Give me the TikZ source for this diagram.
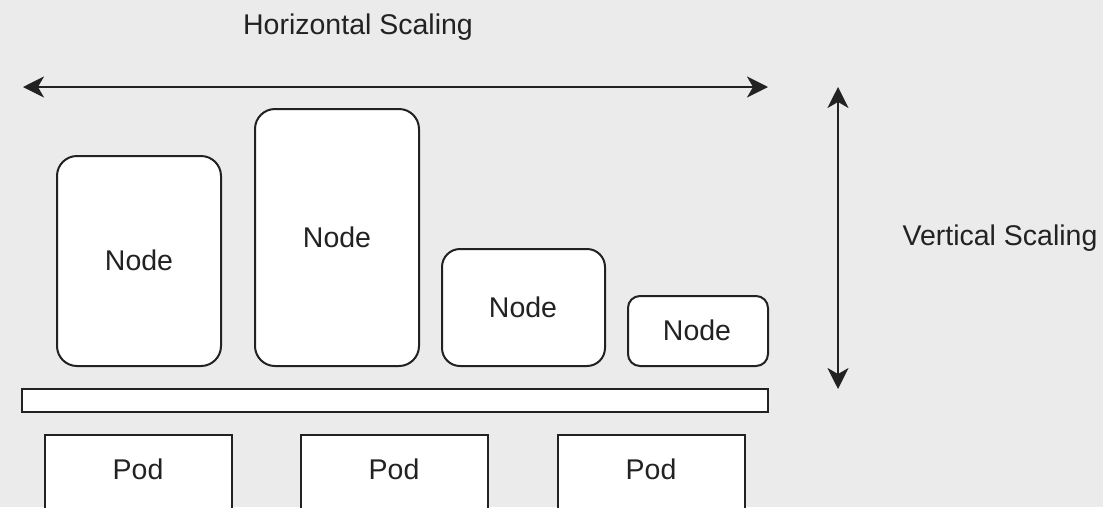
\documentclass[tikz,border=0pt]{standalone}
\usepackage{fontspec}
\setmainfont{Liberation Sans}
\usetikzlibrary{arrows.meta}
\definecolor{bg}{HTML}{EBEBEB}
\definecolor{ln}{HTML}{222222}
\begin{document}
\begin{tikzpicture}[x=1pt,y=-1pt,
  box/.style={draw=ln,fill=white,line width=2pt},
  lbl/.style={font=\fontsize{28.5}{33}\selectfont,text=ln},
  arr/.style={draw=ln,line width=2pt,{Stealth[length=21pt,width=21pt,inset=6pt]}-{Stealth[length=21pt,width=21pt,inset=6pt]}}]
\clip (0,0) rectangle (1103,507);
\fill[bg] (0,0) rectangle (1103,507);
% horizontal arrow
\coordinate (hl) at (23,87);
\coordinate (hr) at (768,87);
\draw[arr] (hl) -- (hr);
\node[lbl] (ht) at (358,27) {Horizontal Scaling};
% vertical arrow
\coordinate (vt) at (838,87);
\coordinate (vb) at (838,389);
\draw[arr] (vt) -- (vb);
\node[lbl] (vtx) at (1000,238) {Vertical Scaling};
% nodes
\draw[box,rounded corners=20pt] (57,156) rectangle (221,366);
\node[lbl] (n1) at (139,260) {Node};
\draw[box,rounded corners=20pt] (255,109) rectangle (419,366);
\node[lbl] (n2) at (337,237) {Node};
\draw[box,rounded corners=18pt] (442,249) rectangle (605,366);
\node[lbl] (n3) at (523,307) {Node};
\draw[box,rounded corners=12pt] (628,296) rectangle (768,366);
\node[lbl] (n4) at (697,330) {Node};
% bar
\draw[box] (22,389) rectangle (768,412);
% pods
\draw[box] (45,435) rectangle (232,520);
\node[lbl] (p1) at (138,469) {Pod};
\draw[box] (301,435) rectangle (488,520);
\node[lbl] (p2) at (394,469) {Pod};
\draw[box] (558,435) rectangle (745,520);
\node[lbl] (p3) at (651,469) {Pod};
\end{tikzpicture}
\end{document}
